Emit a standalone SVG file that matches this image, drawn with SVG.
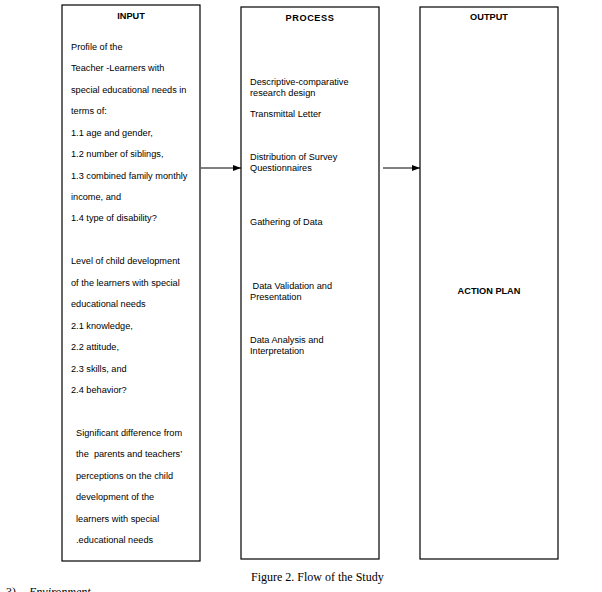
<svg xmlns="http://www.w3.org/2000/svg" width="602" height="592" viewBox="0 0 602 592">
<style>
.box{fill:#fff;stroke:#000;stroke-width:1.2}
.t{font-family:"Liberation Sans",Arial,sans-serif;font-size:9.2px;fill:#000}
.h{font-family:"Liberation Sans",Arial,sans-serif;font-size:9.2px;font-weight:bold;fill:#000;text-anchor:middle}
.cap{font-family:"Liberation Serif","Times New Roman",serif;font-size:12px;fill:#000}
.conn{stroke:#000;stroke-width:1;fill:none;marker-end:url(#ah)}
</style>
<defs>
<marker id="ah" markerWidth="8" markerHeight="6" refX="8" refY="3" orient="auto" markerUnits="userSpaceOnUse">
<path d="M0,0 L8,3 L0,6 Z" fill="#000"/>
</marker>
</defs>
<rect width="602" height="592" fill="#fff"/>
<g id="input">
<rect class="box" x="62" y="5" width="138" height="556"/>
<text class="h" x="131" y="19">INPUT</text>
<text class="t" x="71" y="50">Profile of the</text>
<text class="t" x="71" y="71">Teacher -Learners with</text>
<text class="t" x="71" y="93">special educational needs in</text>
<text class="t" x="71" y="114">terms of:</text>
<text class="t" x="71" y="136">1.1 age and gender,</text>
<text class="t" x="71" y="157">1.2 number of siblings,</text>
<text class="t" x="71" y="179">1.3 combined family monthly</text>
<text class="t" x="71" y="200">income, and</text>
<text class="t" x="71" y="221">1.4 type of disability?</text>
<text class="t" x="71" y="264">Level of child development</text>
<text class="t" x="71" y="286">of the learners with special</text>
<text class="t" x="71" y="307">educational needs</text>
<text class="t" x="71" y="329">2.1 knowledge,</text>
<text class="t" x="71" y="350">2.2 attitude,</text>
<text class="t" x="71" y="372">2.3 skills, and</text>
<text class="t" x="71" y="393">2.4 behavior?</text>
<text class="t" x="76" y="436">Significant difference from</text>
<text class="t" x="76" y="457" xml:space="preserve">the  parents and teachers’</text>
<text class="t" x="76" y="479">perceptions on the child</text>
<text class="t" x="76" y="500">development of the</text>
<text class="t" x="76" y="522">learners with special</text>
<text class="t" x="76" y="543">.educational needs</text>
</g>
<g id="process">
<rect class="box" x="241" y="7" width="138" height="552"/>
<text class="h" x="310" y="21" letter-spacing="0.6">PROCESS</text>
<text class="t" x="250" y="85">Descriptive-comparative</text>
<text class="t" x="250" y="96">research design</text>
<text class="t" x="250" y="117">Transmittal Letter</text>
<text class="t" x="250" y="160">Distribution of Survey</text>
<text class="t" x="250" y="171">Questionnaires</text>
<text class="t" x="250" y="225">Gathering of Data</text>
<text class="t" x="250" y="289" xml:space="preserve"> Data Validation and</text>
<text class="t" x="250" y="300">Presentation</text>
<text class="t" x="250" y="343">Data Analysis and</text>
<text class="t" x="250" y="354">Interpretation</text>
</g>
<g id="output">
<rect class="box" x="420" y="7" width="138" height="552"/>
<text class="h" x="489" y="20">OUTPUT</text>
<text class="h" x="489" y="294">ACTION PLAN</text>
</g>
<g id="connectors">
<line class="conn" x1="201" y1="168" x2="241" y2="168"/>
<line class="conn" x1="383" y1="168" x2="420" y2="168"/>
</g>
<text class="cap" x="251" y="581">Figure 2. Flow of the Study</text>
<text class="cap" x="6" y="596" font-size="11">3)</text>
<text class="cap" x="29" y="596" font-size="11" font-style="italic">Environment</text>
</svg>
